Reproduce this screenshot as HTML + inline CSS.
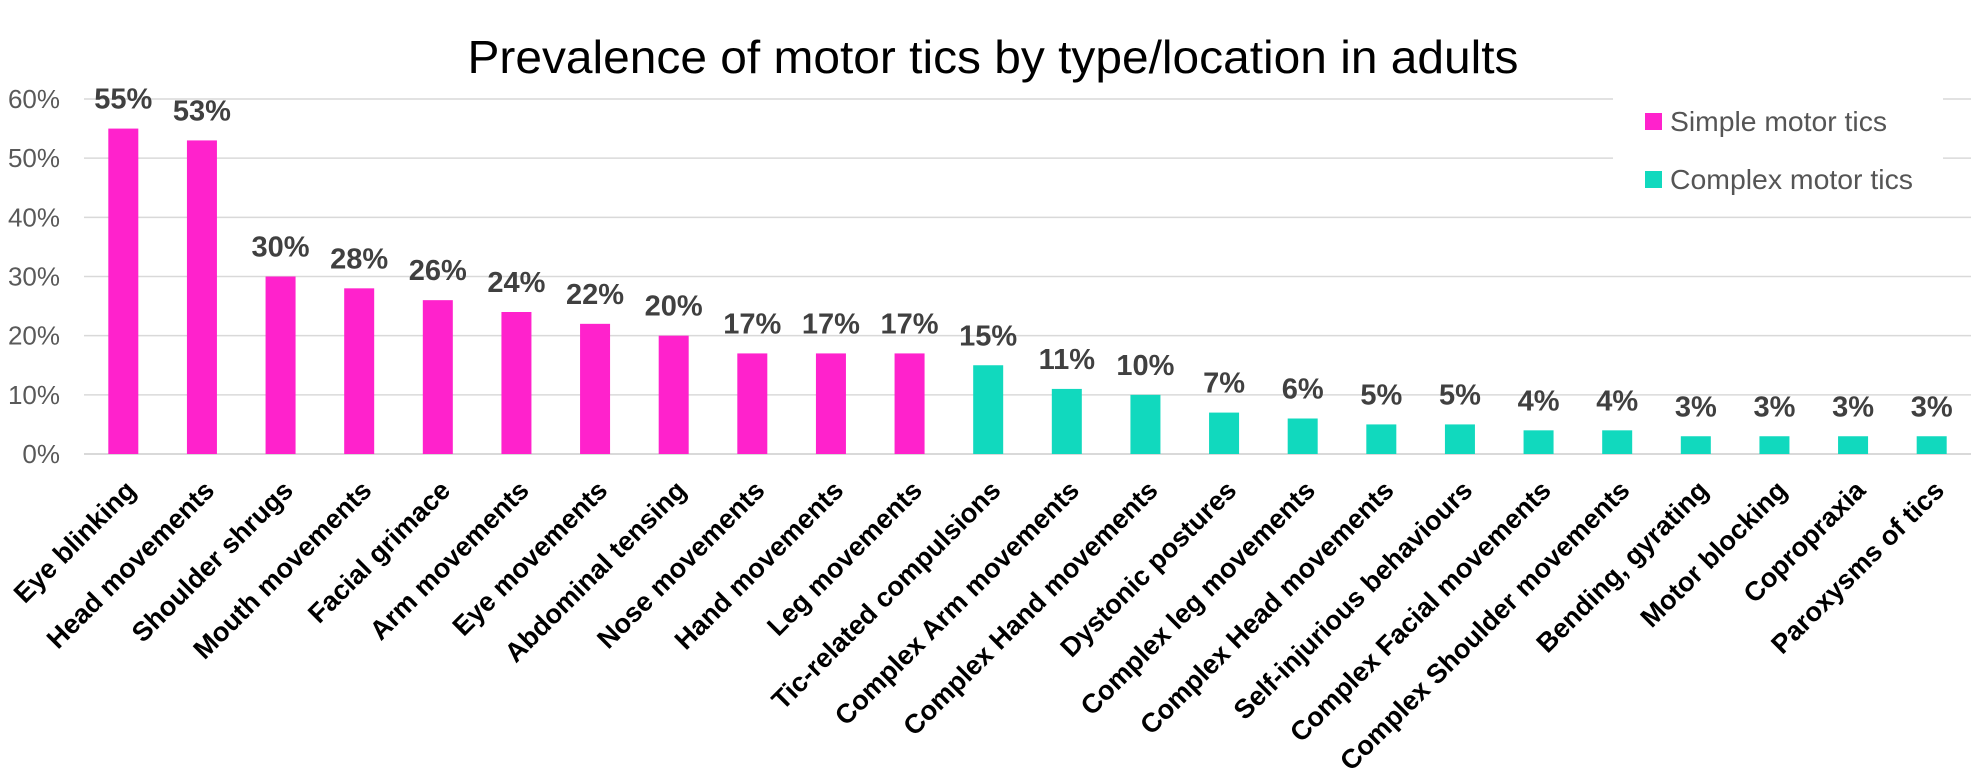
<!DOCTYPE html>
<html><head><meta charset="utf-8">
<style>
html,body{margin:0;padding:0;background:#fff;}
svg{display:block;font-family:"Liberation Sans",Arial,sans-serif;}
</style></head>
<body>
<svg id="chart" width="1984" height="778" viewBox="0 0 1984 778" xmlns="http://www.w3.org/2000/svg">
<text x="993" y="73" text-anchor="middle" font-size="46" fill="#000" textLength="1051" lengthAdjust="spacingAndGlyphs">Prevalence of motor tics by type/location in adults</text>
<g id="grid"></g>
<g id="yticks"></g>
<g id="bars"></g>
<g id="values"></g>
<g id="xlabels"></g>
<g>
<rect x="1613" y="90" width="330" height="120" fill="#fff"/>
<rect x="1645" y="113" width="17" height="17" fill="#FF22CC"/>
<text x="1670" y="131" font-size="28" fill="#555" textLength="217" lengthAdjust="spacingAndGlyphs">Simple motor tics</text>
<rect x="1645" y="171" width="17" height="17" fill="#11D9BE"/>
<text x="1670" y="189" font-size="28" fill="#555" textLength="243" lengthAdjust="spacingAndGlyphs">Complex motor tics</text>
</g>
</svg>
<script>
const categories = ["Eye blinking","Head movements","Shoulder shrugs","Mouth movements","Facial grimace","Arm movements","Eye movements","Abdominal tensing","Nose movements","Hand movements","Leg movements","Tic-related compulsions","Complex  Arm movements","Complex  Hand movements","Dystonic postures","Complex leg movements","Complex  Head movements","Self-injurious behaviours","Complex  Facial movements","Complex  Shoulder movements","Bending, gyrating","Motor blocking","Copropraxia","Paroxysms of tics"];
const values = [55,53,30,28,26,24,22,20,17,17,17,15,11,10,7,6,5,5,4,4,3,3,3,3];
const groups = ["simple","simple","simple","simple","simple","simple","simple","simple","simple","simple","simple","complex","complex","complex","complex","complex","complex","complex","complex","complex","complex","complex","complex","complex"];
const yTicks = [0,10,20,30,40,50,60];

const NS = "http://www.w3.org/2000/svg";
const plotL = 84, plotR = 1971, y0 = 454, y60 = 99;
const band = (plotR - plotL) / categories.length;
const barW = 30;
function xScale(i){ return plotL + band * (i + 0.5); }
function yScale(v){ return y0 - (v / 60) * (y0 - y60); }
const colors = {simple:"#FF22CC", complex:"#11D9BE"};
function mk(tag, attrs, parent){ const e=document.createElementNS(NS,tag); for(const k in attrs) e.setAttribute(k,attrs[k]); parent.appendChild(e); return e; }

const grid = document.getElementById('grid');
const yt = document.getElementById('yticks');
yTicks.forEach(t=>{
  const l = mk('line',{x1:plotL,x2:plotR,y1:yScale(t),y2:yScale(t),stroke:'#d9d9d9','stroke-width':t===0?2:1.5},grid);
  
  
  const tx = mk('text',{x:60,y:yScale(t)+9,'text-anchor':'end','font-size':26,fill:'#595959'},yt);
  tx.textContent = t + '%';
  
  
});

const bars = document.getElementById('bars');
const vals = document.getElementById('values');
const xl = document.getElementById('xlabels');
categories.forEach((c,i)=>{
  const cx = xScale(i), v = values[i];
  const r = mk('rect',{x:cx-barW/2,y:yScale(v),width:barW,height:y0-yScale(v),fill:colors[groups[i]]},bars);
  
  
  const vt = mk('text',{x:cx,y:yScale(v)-20,'text-anchor':'middle','font-size':29,'font-weight':'bold',fill:'#404040'},vals);
  vt.textContent = v + '%';
  
  
  const bx = cx + 14, by = 492;
  const lt = mk('text',{x:bx,y:by,'text-anchor':'end','font-size':27,'font-weight':'bold',fill:'#000',transform:'rotate(-45 '+bx+' '+by+')'},xl);
  lt.textContent = c;
  
  
});
</script>
</body></html>
